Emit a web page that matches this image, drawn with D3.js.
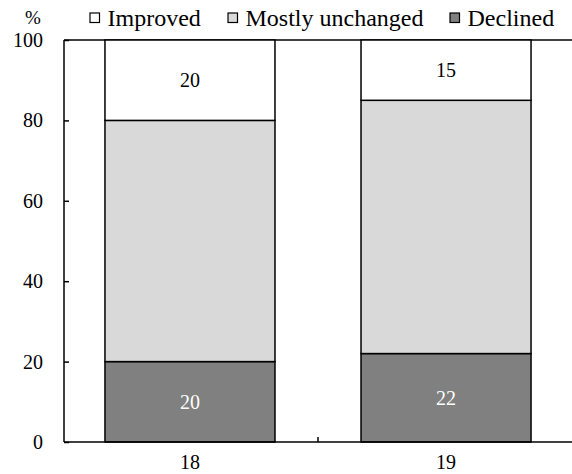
<!DOCTYPE html>
<html><head><meta charset="utf-8">
<script src="https://cdn.jsdelivr.net/npm/d3@7"></script>
<style>body{margin:0;background:#fff}svg{display:block}</style>
</head><body>
<svg id="c" width="572" height="474"></svg>
<script>
const categories = ["18", "19"];
const seriesNames = ["Declined", "Mostly unchanged", "Improved"];
const declined = [20, 22];
const unchanged = [60, 63];
const improved = [20, 15];
const yTicks = [0, 20, 40, 60, 80, 100];
const colors = {"Improved": "#ffffff", "Mostly unchanged": "#d9d9d9", "Declined": "#808080"};
const legendOrder = ["Improved", "Mostly unchanged", "Declined"];

const FONT = "'Times New Roman', 'Liberation Serif', Times, serif";
const svg = d3.select("#c").attr("font-family", FONT);
const pL = 64, pR = 572, pT = 40, pB = 442;
const x = d3.scaleBand().domain(categories).range([pL, pR]).paddingInner(0.336).paddingOuter(0.16);
const y = d3.scaleLinear().domain([0, 100]).range([pB, pT]);

const rows = categories.map((c, i) => ({cat: c, "Declined": declined[i], "Mostly unchanged": unchanged[i], "Improved": improved[i]}));
const stack = d3.stack().keys(seriesNames)(rows);

// top border
svg.append("line").attr("x1", pL).attr("x2", 572).attr("y1", y(100)).attr("y2", y(100)).attr("stroke", "#000").attr("stroke-width", 1.5);

stack.forEach(s => {
  svg.append("g").selectAll("rect").data(s).join("rect")
    .attr("x", d => x(d.data.cat)).attr("width", x.bandwidth())
    .attr("y", d => y(d[1])).attr("height", d => y(d[0]) - y(d[1]))
    .attr("fill", colors[s.key]).attr("stroke", "#000").attr("stroke-width", 1.5);
});

// labels
const labelSeries = {"Declined": "#ffffff", "Improved": "#000000"};
stack.forEach(s => {
  if (!(s.key in labelSeries)) return;
  svg.append("g").selectAll("text").data(s).join("text")
    .attr("x", d => x(d.data.cat) + x.bandwidth() / 2)
    .attr("y", d => y((d[0] + d[1]) / 2))
    .attr("dy", "0.35em").attr("text-anchor", "middle")
    .attr("font-family", FONT).attr("font-size", 20).attr("fill", labelSeries[s.key])
    .text(d => d.data[s.key]);
});

// y axis
const yAxis = d3.axisRight(y).tickValues(yTicks).tickSize(5).tickFormat(d3.format("d"));
const ga = svg.append("g").attr("transform", `translate(${pL},0)`).call(yAxis);
ga.attr("font-family", FONT);
ga.select(".domain").attr("stroke", "#000").attr("stroke-width", 1.5).attr("d", `M0,${pT}V${pB}`);
ga.selectAll(".tick line").attr("stroke", "#000").attr("stroke-width", 1.5);
ga.selectAll(".tick text").attr("x", -21).attr("text-anchor", "end").attr("font-size", 20).attr("fill", "#000").attr("font-family", FONT);

// x axis
const xb = svg.append("g").attr("transform", `translate(0,${pB})`);
xb.append("line").attr("x1", pL).attr("x2", 572).attr("stroke", "#000").attr("stroke-width", 1.5);
xb.selectAll("line.t").data([x(categories[1]) - x.step() * x.paddingInner() / 2]).join("line").attr("class", "t")
  .attr("x1", d => d).attr("x2", d => d).attr("y1", 0).attr("y2", -5).attr("stroke", "#000").attr("stroke-width", 1.5);
xb.selectAll("text").data(categories).join("text")
  .attr("x", d => x(d) + x.bandwidth() / 2).attr("y", 20).attr("dy", "0.35em")
  .attr("text-anchor", "middle").attr("font-family", FONT).attr("font-size", 20).text(d => d);

// % label
svg.append("text").attr("x", 33).attr("y", 17).attr("dy", "0.35em").attr("text-anchor", "middle").attr("font-family", FONT).attr("font-size", 19).text("%");

// legend
const legX = [90, 228, 450];
const lg = svg.append("g");
legendOrder.forEach((k, i) => {
  lg.append("rect").attr("x", legX[i]).attr("y", 13).attr("width", 9.5).attr("height", 9.5)
    .attr("fill", colors[k]).attr("stroke", "#000").attr("stroke-width", 1.2);
  lg.append("text").attr("x", legX[i] + 17.5).attr("y", 26).attr("font-family", FONT).attr("font-size", 24).text(k);
});
</script>
</body></html>
